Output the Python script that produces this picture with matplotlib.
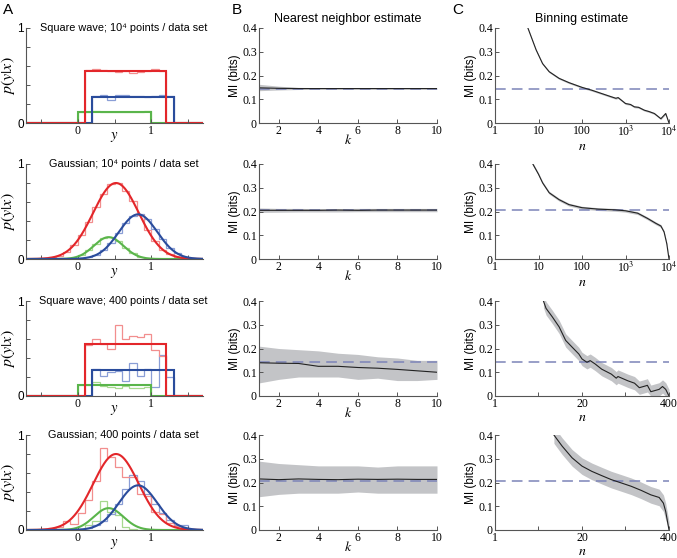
import numpy as np
import matplotlib
matplotlib.use("Agg")
import matplotlib.pyplot as plt

plt.rcParams['font.family'] = ['Liberation Sans', 'DejaVu Sans']
plt.rcParams['mathtext.fontset'] = 'stix'

# ---------------- panel A data ----------------
red_lt, blue_lt, green_lt = '#f28e8e', '#8a9ed6', '#a6d88e'
red, blue, green = '#e3262a', '#2a4c9c', '#5ab54b'

# square wave: (start, stop, height)
sq_red = (0.1, 1.2, 0.545)
sq_blue = (0.2, 1.3, 0.27)
sq_green = (0.0, 1.0, 0.117)

# histograms, square wave, 10^4 points (bins of 0.1)
sq1_red = [0.56, 0.57, 0.56, 0.55, 0.54, 0.545, 0.53, 0.535, 0.55, 0.565, 0.55]
sq1_blue = [0.28, 0.30, 0.24, 0.29, 0.30, 0.285, 0.28, 0.27, 0.28, 0.30, 0.28]
sq1_green = [0.12, 0.12, 0.125, 0.12, 0.12, 0.115, 0.12, 0.115, 0.12, 0.125]
# square wave, 400 points
sq3_red = [0.54, 0.60, 0.55, 0.50, 0.75, 0.60, 0.63, 0.62, 0.65, 0.48, 0.42]
sq3_blue = [0.28, 0.21, 0.25, 0.26, 0.155, 0.35, 0.21, 0.28, 0.10, 0.43, 0.20]
sq3_green = [0.12, 0.12, 0.145, 0.11, 0.10, 0.08, 0.11, 0.08, 0.08, 0.10]

# gaussians: (mean, sigma, peak)
g_red = (0.52, 0.31, 0.80)
g_blue = (0.82, 0.26, 0.47)
g_green = (0.42, 0.20, 0.23)

gauss_edges = np.round(np.arange(-0.5, 1.61, 0.1), 2)
g2_red = [0.006, 0.017, 0.036, 0.078, 0.15, 0.25, 0.39, 0.55, 0.68, 0.79, 0.80,
          0.72, 0.61, 0.46, 0.31, 0.19, 0.10, 0.05, 0.022, 0.009, 0.003]
g2_blue = [0, 0, 0, 0, 0, 0.006, 0.017, 0.042, 0.09, 0.17, 0.27, 0.38, 0.45,
           0.47, 0.42, 0.32, 0.21, 0.12, 0.058, 0.025, 0.009]
g2_green = [0, 0, 0, 0, 0.015, 0.04, 0.09, 0.16, 0.22, 0.235, 0.19, 0.12, 0.06,
            0.023, 0.007, 0, 0, 0, 0, 0, 0]
g4_red = [0.01, 0.02, 0.03, 0.10, 0.06, 0.18, 0.32, 0.52, 0.86, 0.77, 0.66,
          0.56, 0.56, 0.38, 0.36, 0.19, 0.17, 0.07, 0.04, 0.02, 0]
g4_blue = [0, 0, 0, 0, 0, 0.01, 0.02, 0.05, 0.10, 0.17, 0.27, 0.43, 0.58, 0.52,
           0.38, 0.27, 0.18, 0.11, 0.05, 0.05, 0.01]
g4_green = [0, 0, 0, 0, 0.01, 0.01, 0.05, 0.10, 0.31, 0.19, 0.155, 0.03, 0.01,
            0, 0, 0, 0, 0, 0, 0, 0]

a_titles = ["Square wave; 10\u2074 points / data set",
            "Gaussian; 10\u2074 points / data set",
            "Square wave; 400 points / data set",
            "Gaussian; 400 points / data set"]

# ---------------- panel B data ----------------
k = [1, 2, 3, 4, 5, 6, 7, 8, 9, 10]
true_mi = [0.145, 0.205, 0.145, 0.205]
nn_mean = [
    [0.148, 0.146, 0.145, 0.145, 0.145, 0.145, 0.145, 0.145, 0.145, 0.145],
    [0.205, 0.205, 0.205, 0.205, 0.206, 0.205, 0.206, 0.206, 0.206, 0.206],
    [0.140, 0.138, 0.137, 0.125, 0.125, 0.120, 0.117, 0.112, 0.106, 0.100],
    [0.215, 0.212, 0.215, 0.213, 0.212, 0.214, 0.213, 0.214, 0.213, 0.213],
]
nn_lo = [
    [0.136, 0.139, 0.141, 0.142, 0.142, 0.142, 0.142, 0.142, 0.142, 0.142],
    [0.196, 0.197, 0.198, 0.198, 0.198, 0.199, 0.199, 0.199, 0.199, 0.199],
    [0.055, 0.070, 0.080, 0.080, 0.080, 0.070, 0.075, 0.065, 0.065, 0.070],
    [0.140, 0.150, 0.155, 0.155, 0.155, 0.160, 0.155, 0.155, 0.155, 0.155],
]
nn_hi = [
    [0.163, 0.155, 0.150, 0.149, 0.148, 0.148, 0.148, 0.148, 0.148, 0.148],
    [0.215, 0.213, 0.213, 0.212, 0.212, 0.213, 0.213, 0.213, 0.213, 0.213],
    [0.210, 0.200, 0.195, 0.190, 0.180, 0.175, 0.165, 0.160, 0.150, 0.150],
    [0.290, 0.280, 0.275, 0.270, 0.270, 0.270, 0.265, 0.270, 0.270, 0.270],
]

# ---------------- panel C data ----------------
bn_n = [
    [5.7, 8.8, 12.4, 17.6, 29.7, 50, 100, 168, 283, 478, 600, 676, 1000, 1300,
     1600, 2000, 2700, 3500, 4600, 6500, 8400, 10000],
    [7.4, 10, 12.4, 17.6, 29.7, 50, 100, 237, 570, 1000, 1900, 3200, 5000,
     6500, 7700, 8900, 10000],
    [5.3, 5.8, 7.2, 9.1, 11.4, 14.2, 17.9, 20, 23.7, 26.5, 31.4, 39.4, 55, 65,
     69, 97, 122, 144, 181, 190, 214, 285, 320, 357, 400],
    [7.6, 10.1, 14.2, 20, 28, 39.4, 55, 77.6, 109, 153, 214, 285, 330, 357, 400],
]
bn_mean = [
    [0.40, 0.308, 0.25, 0.216, 0.188, 0.17, 0.15, 0.138, 0.124, 0.11, 0.104,
     0.107, 0.082, 0.078, 0.068, 0.066, 0.054, 0.048, 0.040, 0.018, 0.040, 0.0],
    [0.40, 0.357, 0.321, 0.279, 0.25, 0.229, 0.216, 0.210, 0.207, 0.203,
     0.193, 0.171, 0.150, 0.139, 0.114, 0.064, 0.0],
    [0.40, 0.369, 0.333, 0.291, 0.234, 0.206, 0.177, 0.156, 0.142, 0.149,
     0.135, 0.113, 0.092, 0.075, 0.082, 0.064, 0.054, 0.035, 0.043, 0.045,
     0.018, 0.028, 0.040, 0.028, 0.0],
    [0.40, 0.353, 0.304, 0.269, 0.247, 0.229, 0.212, 0.198, 0.184, 0.167,
     0.148, 0.137, 0.113, 0.078, 0.0],
]
bn_spread = [0.004, 0.006, 0.028, 0.035]

xlim_c = [(1, 1e4), (1, 1e4), (1, 400), (1, 400)]
xticks_c = [[1, 10, 100, 1000, 10000], [1, 10, 100, 1000, 10000],
            [1, 4.47, 20, 89.4, 400], [1, 4.47, 20, 89.4, 400]]
xticklabels_c = [['1', '10', '100', '10$^3$', '10$^4$'],
                 ['1', '10', '100', '10$^3$', '10$^4$'],
                 ['1', '', '20', '', '400'], ['1', '', '20', '', '400']]
c_labelpad = [0, 0, 0, 0]

# ---------------- layout ----------------
fig = plt.figure(figsize=(6.77, 5.58), dpi=100)
W, H = 677.0, 558.0
row_top = [28, 164, 301, 435]
ah = 95
col_left = [26, 259, 495]
aw = [177, 178, 174]

serif = ['Liberation Serif', 'DejaVu Serif']
spine_c = '#555555'
dash_c = '#7c84b8'
band_c = '#c3c4c7'


def make_ax(col, row):
    ax = fig.add_axes([col_left[col] / W, 1 - (row_top[row] + ah) / H,
                       aw[col] / W, ah / H])
    for s in ['top', 'right']:
        ax.spines[s].set_visible(False)
    for s in ['left', 'bottom']:
        ax.spines[s].set_color(spine_c)
        ax.spines[s].set_linewidth(0.8)
    ax.tick_params(direction='in', length=3, width=0.7, color=spine_c,
                   labelsize=8.5, pad=1.5)
    return ax


def step_rect(ax, rect, color):
    x0, x1, h = rect
    ax.stairs([0, h, 0], [-0.7, x0, x1, 1.7], color=color, lw=1.5)


def gauss_curve(ax, g, color):
    xs = np.linspace(-0.7, 1.7, 400)
    mu, sd, pk = g
    ax.plot(xs, pk * np.exp(-(xs - mu) ** 2 / (2 * sd ** 2)), color=color, lw=1.5)


sq_edges = {'red': np.round(np.arange(0.1, 1.21, 0.1), 2),
            'blue': np.round(np.arange(0.2, 1.31, 0.1), 2),
            'green': np.round(np.arange(0.0, 1.01, 0.1), 2)}

for row in range(4):
    ax = make_ax(0, row)
    if row in (0, 2):
        hr, hb, hg = (sq1_red, sq1_blue, sq1_green) if row == 0 else (sq3_red, sq3_blue, sq3_green)
        ax.stairs(hg, sq_edges['green'], color=green_lt, lw=0.9)
        ax.stairs(hb, sq_edges['blue'], color=blue_lt, lw=0.9)
        ax.stairs(hr, sq_edges['red'], color=red_lt, lw=0.9)
        step_rect(ax, sq_green, green)
        step_rect(ax, sq_blue, blue)
        step_rect(ax, sq_red, red)
    else:
        hr, hb, hg = (g2_red, g2_blue, g2_green) if row == 1 else (g4_red, g4_blue, g4_green)
        ax.stairs(hg, gauss_edges, color=green_lt, lw=0.9)
        ax.stairs(hb, gauss_edges, color=blue_lt, lw=0.9)
        ax.stairs(hr, gauss_edges, color=red_lt, lw=0.9)
        gauss_curve(ax, g_green, green)
        gauss_curve(ax, g_red, red)
        gauss_curve(ax, g_blue, blue)
    ax.set_xlim(-0.7, 1.7)
    ax.set_ylim(0, 1)
    ax.set_yticks([0, 1])
    ax.set_yticks([0.2, 0.4, 0.6, 0.8], minor=True)
    ax.tick_params(which='minor', direction='in', length=3, width=0.7, color=spine_c)
    ax.set_xticks([-0.5, 0, 0.5, 1, 1.5])
    ax.set_xticklabels(['', '0', '', '1', ''], family=serif, fontsize=8.5)
    ax.set_ylabel('$p(y|x)$', fontsize=11.5, labelpad=0)
    ax.set_xlabel('$y$', fontsize=10.5, labelpad=-5)
    ax.text(0.55, 1.0, a_titles[row], transform=ax.transAxes, ha='center',
            va='center', fontsize=7.8, family=['Liberation Sans', 'DejaVu Sans'])

for row in range(4):
    ax = make_ax(1, row)
    ax.fill_between(k, nn_lo[row], nn_hi[row], color=band_c, lw=0)
    ax.axhline(true_mi[row], color=dash_c, lw=1.1, dashes=(7, 4))
    ax.plot(k, nn_mean[row], color='#222222', lw=0.8)
    ax.set_xlim(1, 10)
    ax.set_ylim(0, 0.4)
    ax.set_xticks([2, 4, 6, 8, 10])
    ax.set_yticks([0, 0.1, 0.2, 0.3, 0.4])
    ax.set_yticklabels(['0', '0.1', '0.2', '0.3', '0.4'], family=serif)
    ax.set_xticklabels(['2', '4', '6', '8', '10'], family=serif)
    ax.set_ylabel('MI (bits)', fontsize=8.5, labelpad=1)
    ax.set_xlabel('$k$', fontsize=10, labelpad=-3)
    if row == 0:
        ax.set_title('Nearest neighbor estimate', fontsize=9, pad=4)

for row in range(4):
    ax = make_ax(2, row)
    n = np.array(bn_n[row])
    m = np.array(bn_mean[row])
    ax.fill_between(n, np.clip(m - bn_spread[row], 0, None), m + bn_spread[row],
                    color=band_c, lw=0)
    ax.axhline(true_mi[row], color=dash_c, lw=1.1, dashes=(7, 4))
    ax.plot(n, m, color='#222222', lw=0.8)
    ax.set_xscale('log')
    ax.set_xlim(*xlim_c[row])
    ax.set_ylim(0, 0.4)
    ax.minorticks_off()
    ax.set_xticks(xticks_c[row])
    ax.set_xticklabels(xticklabels_c[row], family=serif)
    ax.set_yticks([0, 0.1, 0.2, 0.3, 0.4])
    ax.set_yticklabels(['0', '0.1', '0.2', '0.3', '0.4'], family=serif)
    ax.set_ylabel('MI (bits)', fontsize=8.5, labelpad=1)
    ax.set_xlabel('$n$', fontsize=10, labelpad=c_labelpad[row])
    if row == 0:
        ax.set_title('Binning estimate', fontsize=9, pad=4)

for lab, x in [('A', 3), ('B', 232), ('C', 452)]:
    fig.text(x / W, 1 - 10 / H, lab, fontsize=11, va='center', ha='left')

fig.savefig('out.png', dpi=100)
